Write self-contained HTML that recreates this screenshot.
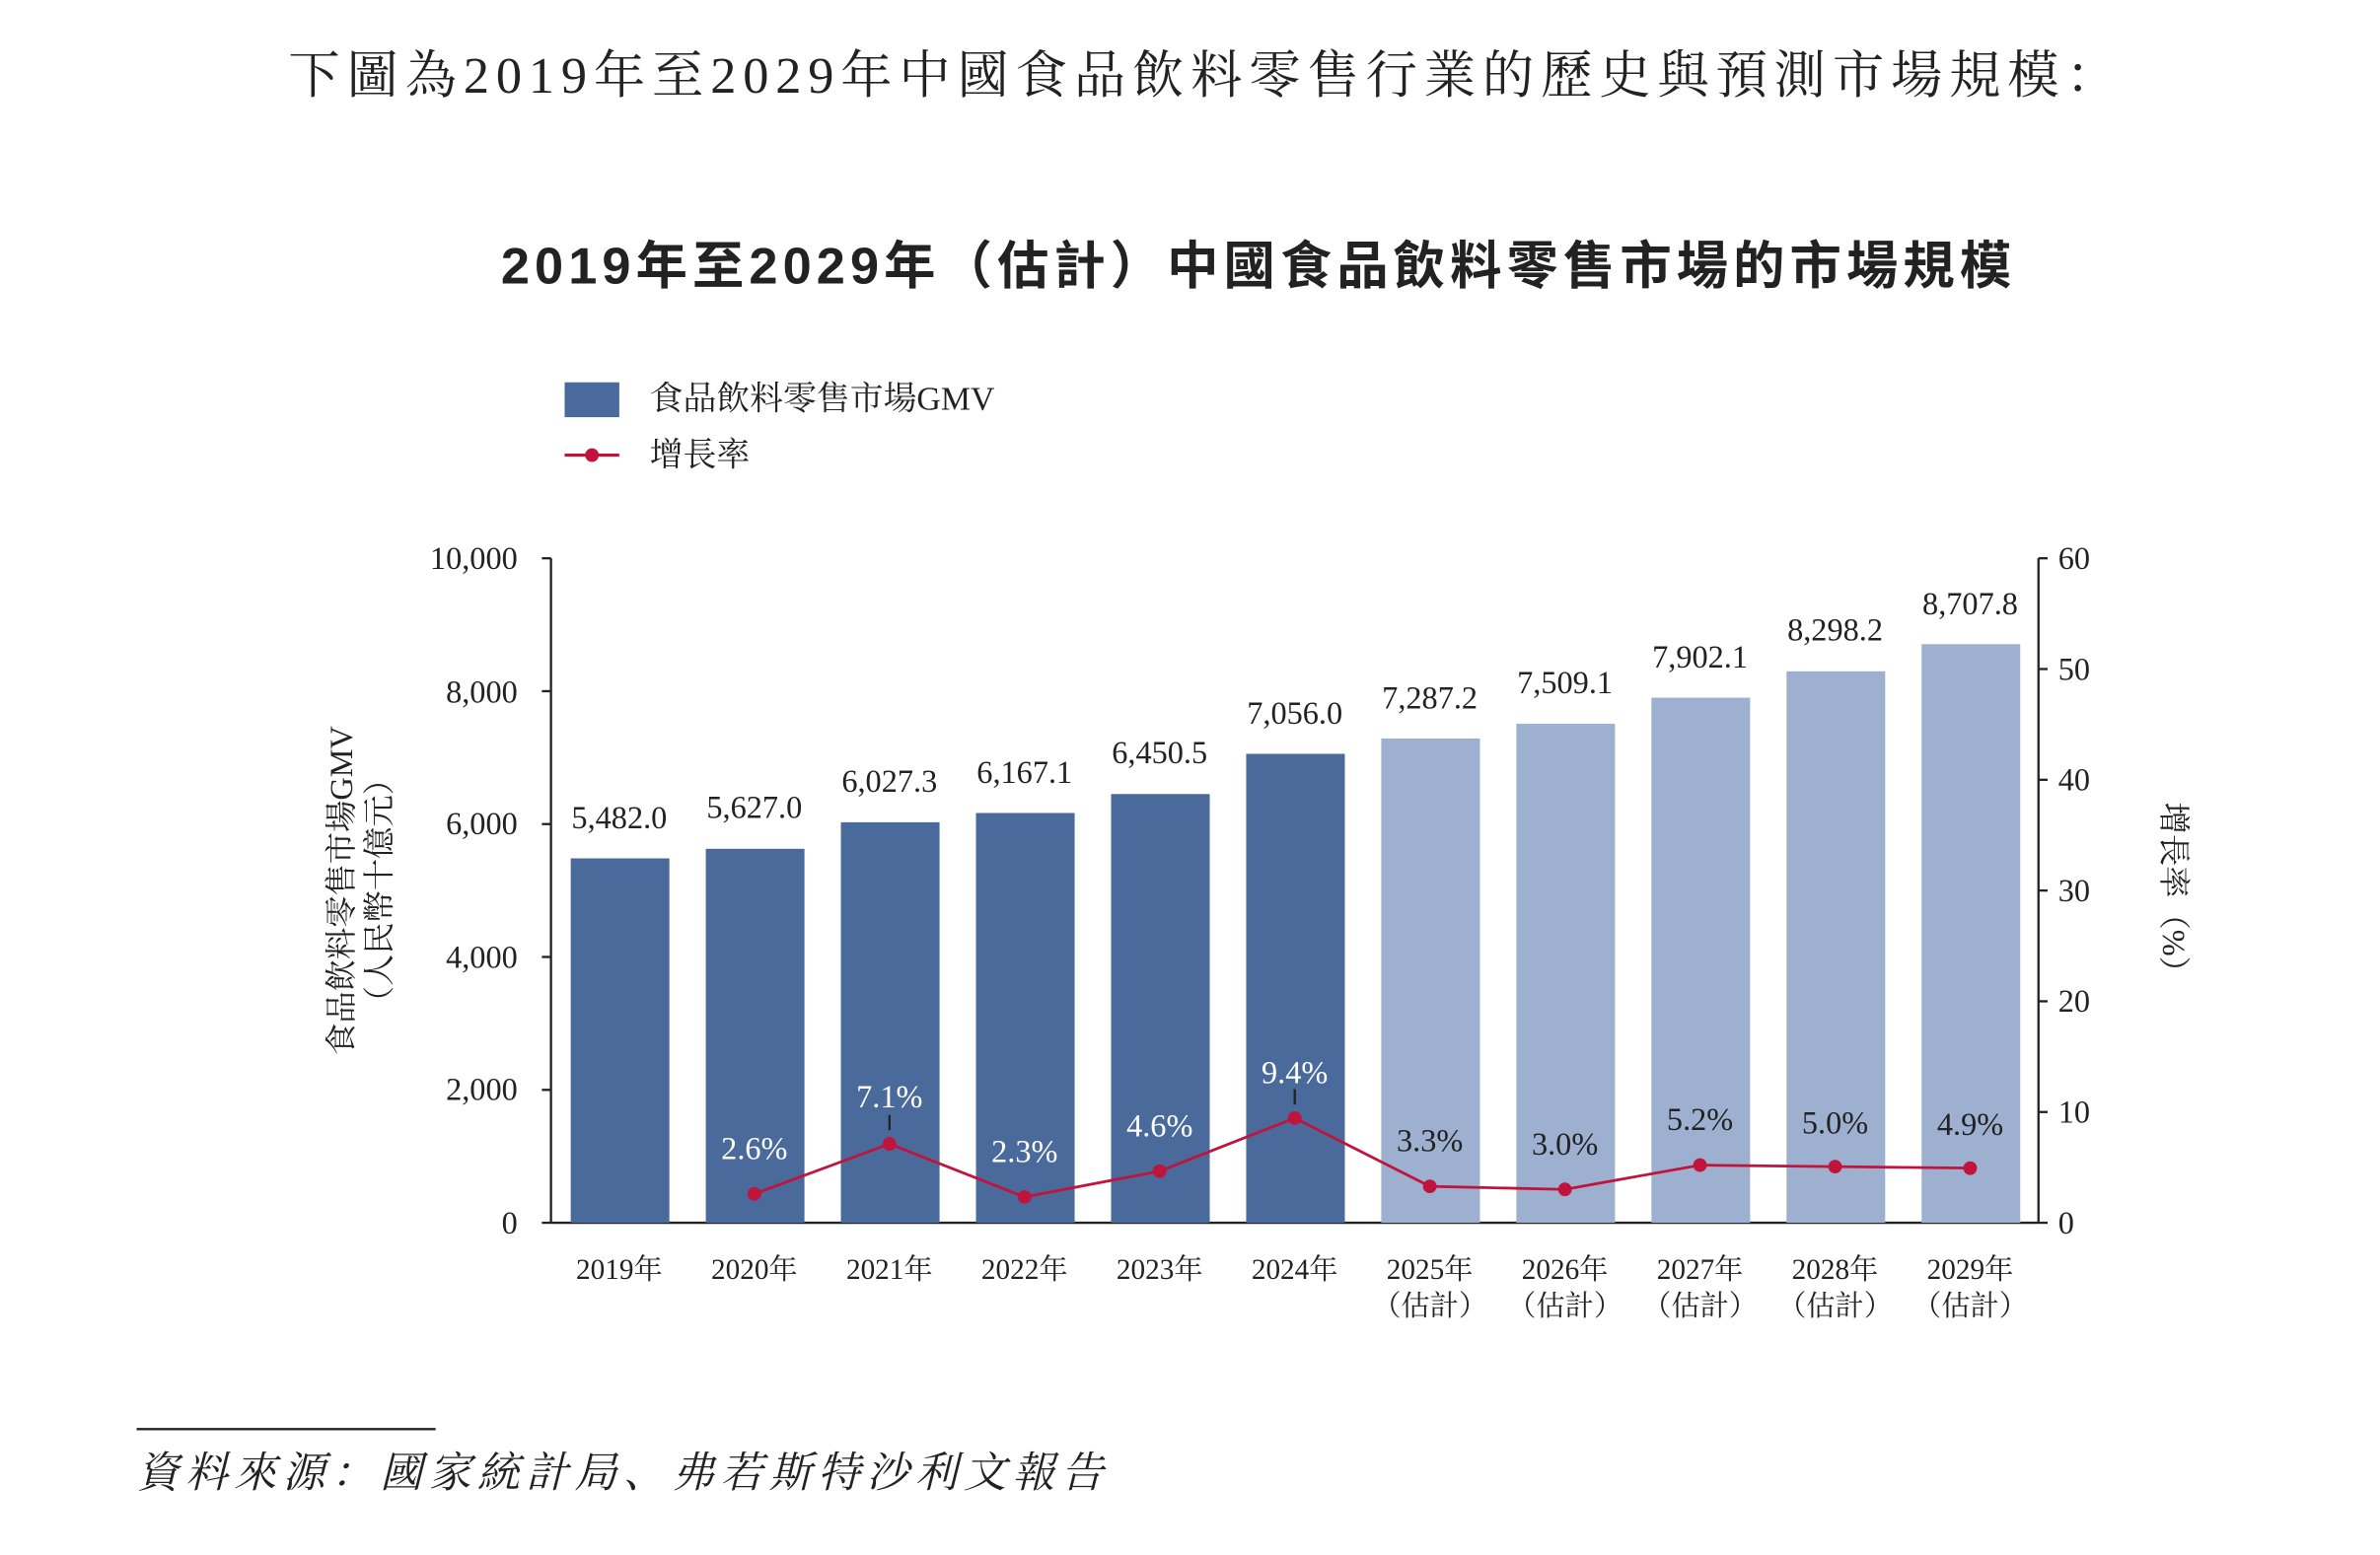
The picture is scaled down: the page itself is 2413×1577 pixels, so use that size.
<!DOCTYPE html>
<html><head><meta charset="utf-8"><style>
html,body{margin:0;padding:0;background:#fff;}
svg{display:block;}
.s{font-family:"Liberation Serif","Noto Serif CJK SC","Noto Sans CJK TC",serif;}
.b{font-family:"Liberation Sans","Noto Sans CJK TC",sans-serif;font-weight:bold;}
</style></head><body>
<svg width="2413" height="1577" viewBox="0 0 1568 1025" preserveAspectRatio="none" xmlns="http://www.w3.org/2000/svg">
<rect width="1568" height="1025" fill="#fff"/>
<text class="s" x="190" y="61" font-size="34" textLength="1205" lengthAdjust="spacing" fill="#222">下圖為2019年至2029年中國食品飲料零售行業的歷史與預測市場規模：</text>
<text class="b" x="330" y="187" font-size="34" textLength="995" lengthAdjust="spacing" fill="#222">2019年至2029年（估計）中國食品飲料零售市場的市場規模</text>
<rect x="372" y="252" width="36" height="23" fill="#4a6a9b"/>
<text class="s" x="428" y="270" font-size="22" fill="#222">食品飲料零售市場GMV</text>
<line x1="372" y1="300" x2="408" y2="300" stroke="#c0143c" stroke-width="2"/>
<circle cx="390" cy="300" r="4.5" fill="#c0143c"/>
<text class="s" x="428" y="307" font-size="22" fill="#222">增長率</text>
<g stroke="#222" stroke-width="1.5">
<line x1="363" y1="368" x2="363" y2="806"/><line x1="1343" y1="368" x2="1343" y2="806"/>
<line x1="363" y1="806" x2="1343" y2="806"/>
<line x1="357" y1="368" x2="363" y2="368"/><line x1="357" y1="455.6" x2="363" y2="455.6"/><line x1="357" y1="543.2" x2="363" y2="543.2"/><line x1="357" y1="630.8" x2="363" y2="630.8"/><line x1="357" y1="718.4" x2="363" y2="718.4"/><line x1="357" y1="806" x2="363" y2="806"/>
<line x1="1343" y1="368" x2="1349" y2="368"/><line x1="1343" y1="441" x2="1349" y2="441"/><line x1="1343" y1="514" x2="1349" y2="514"/><line x1="1343" y1="587" x2="1349" y2="587"/><line x1="1343" y1="660" x2="1349" y2="660"/><line x1="1343" y1="733" x2="1349" y2="733"/><line x1="1343" y1="806" x2="1349" y2="806"/>
</g>
<g class="s" font-size="21" fill="#222" text-anchor="end">
<text x="341" y="375">10,000</text><text x="341" y="463">8,000</text><text x="341" y="550">6,000</text><text x="341" y="638">4,000</text><text x="341" y="725">2,000</text><text x="341" y="813">0</text>
</g>
<g class="s" font-size="21" fill="#222">
<text x="1356" y="375">60</text><text x="1356" y="448">50</text><text x="1356" y="521">40</text><text x="1356" y="594">30</text><text x="1356" y="667">20</text><text x="1356" y="740">10</text><text x="1356" y="813">0</text>
</g>
<text class="s" font-size="21" fill="#222" text-anchor="middle" transform="translate(232,587) rotate(-90)">食品飲料零售市場GMV</text>
<text class="s" font-size="21" fill="#222" text-anchor="middle" transform="translate(257,587) rotate(-90)">（人民幣十億元）</text>
<text class="s" font-size="21" fill="#222" text-anchor="middle" transform="translate(1425,590) rotate(90)">增長率（%）</text>
<g fill="#4a6a9b">
<rect x="376" y="565.8" width="65" height="240.2"/>
<rect x="465" y="559.5" width="65" height="246.5"/>
<rect x="554" y="542" width="65" height="264"/>
<rect x="643" y="535.9" width="65" height="270.1"/>
<rect x="732" y="523.4" width="65" height="282.6"/>
<rect x="821" y="496.9" width="65" height="309.1"/>
</g>
<g fill="#9db0d0">
<rect x="910" y="486.8" width="65" height="319.2"/>
<rect x="999" y="477.1" width="65" height="328.9"/>
<rect x="1088" y="459.9" width="65" height="346.1"/>
<rect x="1177" y="442.5" width="65" height="363.5"/>
<rect x="1266" y="424.6" width="65" height="381.4"/>
</g>
<g class="s" font-size="21" fill="#222" text-anchor="middle">
<text x="408" y="546">5,482.0</text><text x="497" y="539">5,627.0</text><text x="586" y="522">6,027.3</text><text x="675" y="516">6,167.1</text><text x="764" y="503">6,450.5</text><text x="853" y="477">7,056.0</text><text x="942" y="467">7,287.2</text><text x="1031" y="457">7,509.1</text><text x="1120" y="440">7,902.1</text><text x="1209" y="422">8,298.2</text><text x="1298" y="405">8,707.8</text>
</g>
<polyline fill="none" stroke="#c0143c" stroke-width="1.8" points="497,787 586,754 675,789 764,772 853,737 942,782 1031,784 1120,768 1209,769 1298,770"/>
<g fill="#c0143c">
<circle cx="497" cy="787" r="4.5"/><circle cx="586" cy="754" r="4.5"/><circle cx="675" cy="789" r="4.5"/><circle cx="764" cy="772" r="4.5"/><circle cx="853" cy="737" r="4.5"/><circle cx="942" cy="782" r="4.5"/><circle cx="1031" cy="784" r="4.5"/><circle cx="1120" cy="768" r="4.5"/><circle cx="1209" cy="769" r="4.5"/><circle cx="1298" cy="770" r="4.5"/>
</g>
<line x1="586" y1="735" x2="586" y2="745" stroke="#222" stroke-width="1.5"/>
<line x1="853" y1="718" x2="853" y2="728" stroke="#222" stroke-width="1.5"/>
<g class="s" font-size="21" fill="#fff" text-anchor="middle">
<text x="497" y="764">2.6%</text><text x="586" y="730">7.1%</text><text x="675" y="766">2.3%</text><text x="764" y="749">4.6%</text><text x="853" y="714">9.4%</text>
</g>
<g class="s" font-size="21" fill="#222" text-anchor="middle">
<text x="942" y="759">3.3%</text><text x="1031" y="761">3.0%</text><text x="1120" y="745">5.2%</text><text x="1209" y="747">5.0%</text><text x="1298" y="748">4.9%</text>
</g>
<g class="s" font-size="19" fill="#222" text-anchor="middle">
<text x="408" y="843">2019年</text><text x="497" y="843">2020年</text><text x="586" y="843">2021年</text><text x="675" y="843">2022年</text><text x="764" y="843">2023年</text><text x="853" y="843">2024年</text><text x="942" y="843">2025年</text><text x="1031" y="843">2026年</text><text x="1120" y="843">2027年</text><text x="1209" y="843">2028年</text><text x="1298" y="843">2029年</text>
<text x="942" y="867">（估計）</text><text x="1031" y="867">（估計）</text><text x="1120" y="867">（估計）</text><text x="1209" y="867">（估計）</text><text x="1298" y="867">（估計）</text>
</g>
<line x1="90" y1="942" x2="287" y2="942" stroke="#222" stroke-width="1.5"/>
<text class="s" x="90" y="980" font-size="28" font-style="italic" textLength="637" lengthAdjust="spacing" fill="#222">資料來源：國家統計局、弗若斯特沙利文報告</text>
</svg>
</body></html>
